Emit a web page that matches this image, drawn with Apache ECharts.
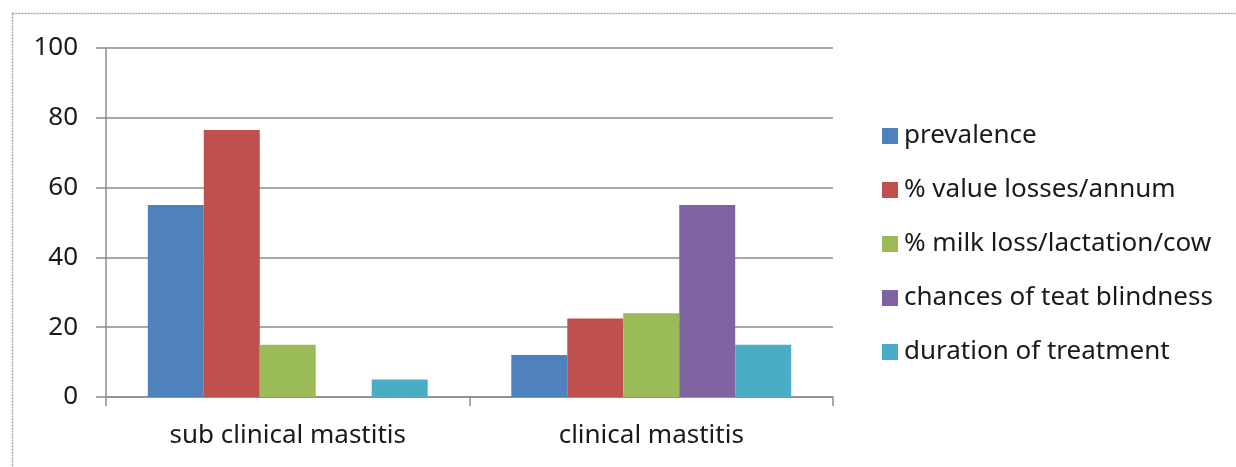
<!DOCTYPE html>
<html>
<head>
<meta charset="utf-8">
<script src="https://cdn.jsdelivr.net/npm/echarts@6/dist/echarts.min.js"></script>
<style>
  html, body { margin: 0; padding: 0; background: #fff; }
  #chart { width: 1236px; height: 467px; }
</style>
</head>
<body>
<div id="chart"></div>
<script>
// Mastitis impact: two mastitis types, five measures each
const categories = ['sub clinical mastitis', 'clinical mastitis'];
const seriesNames = [
  'prevalence',
  '% value losses/annum',
  '% milk loss/lactation/cow',
  'chances of teat blindness',
  'duration of treatment'
];
const prevalence = [55, 12];
const valueLosses = [76.5, 22.5];
const milkLoss = [15, 24];
const teatBlindness = [0, 55];
const treatmentDuration = [5, 15];
const yTicks = [0, 20, 40, 60, 80, 100];

const seriesValues = [prevalence, valueLosses, milkLoss, teatBlindness, treatmentDuration];
const palette = ['#4f81bd', '#c0504d', '#9bbb59', '#8064a2', '#4bacc6'];

const FONT = '"Noto Sans", "Open Sans", sans-serif';
const TEXT_COLOR = '#1a1a1a';
const FONT_SIZE = 26;
const chart = echarts.init(document.getElementById('chart'));

chart.setOption({
  animation: false,
  backgroundColor: '#fff',
  color: palette,
  textStyle: { fontFamily: FONT },
  graphic: [{
    type: 'rect',
    shape: { x: 12.5, y: 13.5, width: 1300, height: 600 },
    style: { fill: 'none', stroke: '#a6a6a6', lineWidth: 1.5, lineDash: [2, 1] },
    silent: true
  }],
  grid: { left: 106, right: 403, top: 48, bottom: 70, containLabel: false },
  legend: {
    orient: 'vertical',
    left: 877,
    top: 118,
    itemWidth: 16,
    itemHeight: 16,
    itemGap: 28,
    icon: 'rect',
    textStyle: {
      fontSize: FONT_SIZE, color: TEXT_COLOR, fontFamily: FONT,
      padding: [0, 0, 0, 1]
    },
    data: seriesNames
  },
  xAxis: {
    type: 'category',
    data: categories,
    axisLine: { lineStyle: { color: '#8c8c8c', width: 1.5 } },
    axisTick: { show: true, alignWithLabel: false, length: 9, lineStyle: { color: '#8c8c8c', width: 1.5 } },
    axisLabel: { fontSize: FONT_SIZE, color: TEXT_COLOR, margin: 26, fontFamily: FONT }
  },
  yAxis: {
    type: 'value',
    min: yTicks[0],
    max: yTicks[yTicks.length - 1],
    interval: yTicks[1] - yTicks[0],
    axisLine: { show: true, lineStyle: { color: '#8c8c8c', width: 1.5 } },
    axisTick: { show: true, length: 10, lineStyle: { color: '#8c8c8c', width: 1.5 } },
    splitLine: { lineStyle: { color: '#8c8c8c', width: 1.5 } },
    axisLabel: { fontSize: FONT_SIZE, color: TEXT_COLOR, margin: 28, fontFamily: FONT }
  },
  series: seriesNames.map((name, i) => ({
    name,
    type: 'bar',
    data: seriesValues[i],
    barGap: '0%',
    barCategoryGap: '23%'
  }))
});
</script>
</body>
</html>
